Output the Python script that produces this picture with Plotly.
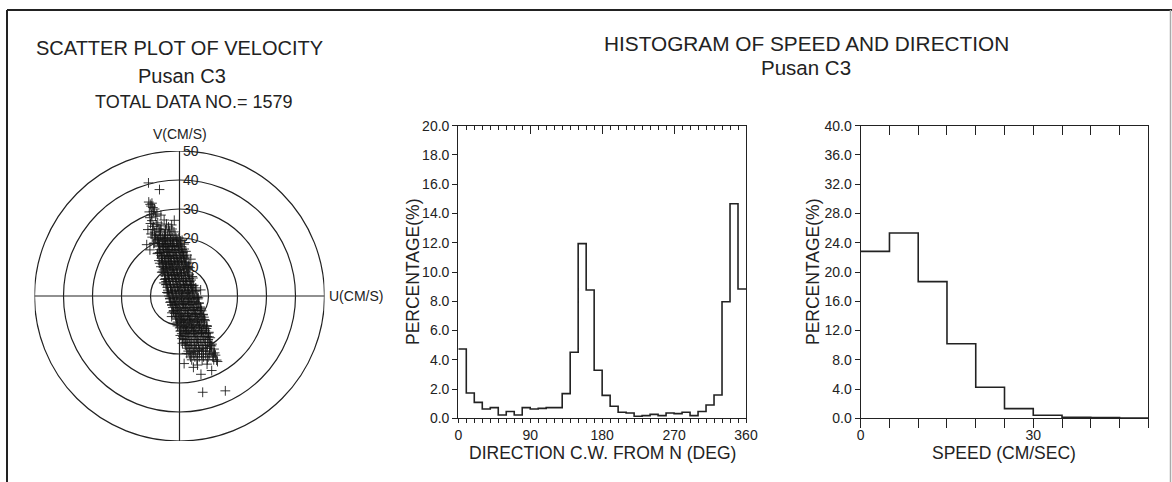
import plotly.graph_objects as go

W, H = 1172, 482
FONT = "Liberation Sans, Arial, sans-serif"
INK = "#222222"

# ---------------- data ----------------
RINGS = [10, 20, 30, 40, 50]

# scatter of velocity (u, v) in cm/s
ROW_V = [21, 20, 19, 18, 17, 16, 15, 14, 13, 12, 11, 10, 9, 8, 7, 6, 5, 4, 3, 2, 1, 0,
         -1, -2, -3, -4, -5, -6, -7, -8, -9, -10, -11, -12, -13, -14, -15, -16, -17,
         -18, -19, -20, -21, -22]
ROW_U = [
    [-8.4, -7.8, -6.5, -5.2, -4.1, -3.0, -1.5],
    [-8.3, -7.0, -5.9, -4.8, -3.6, -2.5, -1.2, -0.2],
    [-7.6, -6.4, -5.5, -4.3, -3.1, -2.0, -0.8, 0.4],
    [-7.2, -6.0, -5.1, -4.2, -3.3, -2.2, -1.0, 0.3],
    [-7.0, -5.8, -4.9, -3.9, -2.9, -1.8, -0.6, 0.6],
    [-6.7, -5.5, -4.6, -3.7, -2.6, -1.5, -0.4, 0.9],
    [-6.8, -5.6, -4.4, -3.5, -2.5, -1.3, -0.1, 1.1],
    [-6.3, -5.2, -4.3, -3.2, -2.1, -1.0, 0.3, 1.4],
    [-6.2, -5.0, -4.0, -3.0, -1.9, -0.8, 0.5, 1.6],
    [-6.0, -4.9, -3.8, -2.8, -1.7, -0.6, 0.7, 1.8],
    [-5.8, -4.6, -3.6, -2.6, -1.5, -0.3, 0.9, 2.1],
    [-5.6, -4.5, -3.4, -2.3, -1.2, 0.0, 1.2, 2.4],
    [-5.5, -4.2, -3.2, -2.1, -1.0, 0.2, 1.4, 2.6],
    [-5.2, -4.0, -2.9, -1.9, -0.7, 0.4, 1.6, 2.8],
    [-5.0, -3.8, -2.7, -1.6, -0.5, 0.7, 1.9, 3.0],
    [-4.8, -3.6, -2.5, -1.4, -0.3, 0.9, 2.1, 3.3],
    [-4.6, -3.4, -2.3, -1.1, 0.0, 1.2, 2.4, 3.5],
    [-4.4, -3.2, -2.0, -0.9, 0.3, 1.4, 2.6, 3.8],
    [-4.2, -3.0, -1.8, -0.6, 0.5, 1.7, 2.9, 4.0],
    [-4.0, -2.8, -1.5, -0.4, 0.8, 1.9, 3.1, 4.3],
    [-3.9, -2.5, -1.3, -0.1, 1.0, 2.2, 3.4, 4.5],
    [-3.6, -2.3, -1.0, 0.2, 1.3, 2.5, 3.7, 4.8],
    [-3.3, -2.0, -0.8, 0.5, 1.6, 2.8, 4.0, 5.1],
    [-3.0, -1.7, -0.5, 0.8, 1.9, 3.1, 4.3, 5.4],
    [-2.6, -1.4, -0.2, 1.0, 2.2, 3.4, 4.6, 5.8],
    [-2.3, -1.1, 0.1, 1.3, 2.5, 3.7, 4.9, 6.1],
    [-2.0, -0.8, 0.4, 1.6, 2.8, 4.0, 5.2, 6.4],
    [-1.6, -0.4, 0.7, 1.9, 3.1, 4.3, 5.5, 6.8],
    [-1.3, -0.1, 1.1, 2.2, 3.4, 4.6, 5.9, 7.1],
    [-0.9, 0.3, 1.4, 2.6, 3.8, 5.0, 6.2, 7.5],
    [-0.6, 0.6, 1.7, 2.9, 4.1, 5.3, 6.6, 7.8],
    [-0.2, 0.9, 2.1, 3.3, 4.5, 5.7, 6.9, 8.2],
    [0.1, 1.3, 2.4, 3.6, 4.8, 6.0, 7.3, 8.5],
    [0.5, 1.6, 2.8, 4.0, 5.2, 6.4, 7.6, 8.9],
    [0.8, 2.0, 3.1, 4.3, 5.5, 6.7, 8.0, 9.2],
    [1.2, 2.3, 3.5, 4.7, 5.9, 7.1, 8.3, 9.6],
    [1.5, 2.7, 3.9, 5.1, 6.2, 7.4, 8.7, 9.9],
    [1.9, 3.0, 4.2, 5.4, 6.6, 7.8, 9.0, 10.3],
    [2.3, 3.5, 4.7, 5.9, 7.1, 8.4, 9.6, 10.7],
    [2.6, 3.9, 5.2, 6.5, 7.8, 9.1, 10.4],
    [3.0, 4.3, 5.6, 6.9, 8.2, 9.5, 10.9],
    [3.4, 4.8, 6.2, 7.6, 9.0, 10.4, 11.6],
    [3.8, 5.3, 6.8, 8.3, 9.9, 11.5],
    [4.2, 6.0, 7.8, 9.6, 11.8],
]
# in-between rows of the dense core
MID_U = [-7.3, -5.1, -3.0, -0.9, -6.9, -4.7, -2.4, -0.3, -6.4, -4.1, -1.8, 0.6,
         -5.9, -3.6, -1.2, 1.3, -5.3, -3.0, -0.6, 1.9, -4.8, -2.4, 0.1, 2.7,
         -4.2, -1.8, 0.7, 3.3, -3.7, -1.2, 1.4, 4.0, -3.1, -0.6, 2.0, 4.6,
         -2.5, 0.0, 2.7, 5.3, -1.9, 0.7, 3.3, 6.0, -1.2, 1.4, 4.0, 6.7,
         -0.6, 2.0, 4.7, 7.4, 0.1, 2.7, 5.4, 8.1, 0.8, 3.4, 6.1, 8.8,
         1.5, 4.1, 6.8, 9.5, 2.3, 4.9, 7.6, 10.1,
         -9.4, 1.6, -8.9, 2.3, -7.6, 3.1, -6.8, 4.4, -6.1, 5.6, -5.4, 6.5,
         -4.3, 7.2, -3.2, 8.4, -2.6, 9.3, -1.1, 10.2, 0.3, 11.0, 1.0, 12.1]
MID_V = [19.5, 19.6, 19.4, 19.5, 17.5, 17.6, 17.4, 17.5, 15.5, 15.4, 15.6, 15.5,
         13.5, 13.6, 13.4, 13.5, 11.5, 11.4, 11.6, 11.5, 9.5, 9.6, 9.4, 9.5,
         7.5, 7.4, 7.6, 7.5, 5.5, 5.6, 5.4, 5.5, 3.5, 3.4, 3.6, 3.5,
         1.5, 1.6, 1.4, 1.5, -0.5, -0.4, -0.6, -0.5, -2.5, -2.6, -2.4, -2.5,
         -4.5, -4.4, -4.6, -4.5, -6.5, -6.6, -6.4, -6.5, -8.5, -8.4, -8.6, -8.5,
         -10.5, -10.6, -10.4, -10.5, -12.5, -12.4, -12.6, -12.5,
         20.3, 16.2, 18.1, 13.4, 14.6, 10.2, 11.3, 6.7, 8.2, 2.8, 4.5, -0.6,
         1.2, -3.8, -2.2, -7.3, -5.8, -11.2, -9.4, -14.1, -13.6, -17.2, -16.3, -19.6]
# ragged edges of the cloud
EDGE_U = [-8.7, -7.4, -7.1, -6.4, -5.8, -5.1, -4.7, -3.9, -3.3, -2.6, -2.1, -1.2,
          -0.7, 0.3, 0.9, 2.0, 2.5, 1.6, 2.6, 3.3, 3.6, 4.6, 4.9, 5.7, 6.1, 6.7,
          7.3, 8.1, 8.6, 9.4, 10.0, 10.6, 11.2, 11.9, 12.4, 13.1, -9.8, -8.0,
          -6.6, 0.9, 2.2, 3.9]
EDGE_V = [18.3, 14.8, 12.2, 10.1, 8.3, 5.7, 3.9, 1.3, -0.8, -3.2, -5.4, -7.6,
          -10.3, -12.1, -14.7, -16.9, -19.8, 17.9, 14.1, 11.4, 9.8, 6.2, 3.7, 1.9,
          -0.3, -2.4, -4.2, -6.3, -8.1, -10.2, -12.8, -14.4, -16.6, -18.3, -20.4,
          -22.6, 21.4, 24.6, 22.8, 19.2, 15.4, 12.7]
# sparse points / outliers
EXTRA_U = [-8.6, -6.8, -5.0, -3.4, -1.9, -9.3, -7.1, -4.8, -2.6, -9.0, -6.3, -3.8,
           -10.0, -7.5, -4.5, -9.5, -5.3, -1.8, -10.2, -8.3, -6.4, -9.7, -7.8, -9.0,
           -10.4, -9.2, -8.6, -10.1, -9.8, -10.6, -9.5, -10.7, -6.9, -10.9, -11.3,
           -10.2, -2.7, 1.6, 4.8, 7.4, 11.1, 12.8, 8.0, 15.8, 9.5, 6.2, 7.3, 7.6, 4.2,
           6.3, -2.7]
EXTRA_V = [22.0, 22.3, 21.8, 22.4, 22.1, 23.0, 23.2, 22.9, 23.1, 24.0, 24.2, 23.8,
           25.0, 25.2, 24.8, 26.0, 26.2, 26.1, 27.0, 27.5, 27.9, 28.0, 28.3, 29.2,
           29.0, 30.5, 30.0, 31.6, 31.0, 32.4, 32.0, 39.0, 36.7, 22.9, 17.7,
           15.9, 24.5, -23.3, -24.6, -27.0, -25.7, -22.1, -33.2, -32.7, -23.5, -23.8,
           2.1, -5.1, 3.8, -1.0, -7.1]

# direction histogram (10 deg bins, %)
DIR_BIN_WIDTH = 10
DIR_PCT = [4.74, 1.73, 1.09, 0.64, 0.73, 0.23, 0.46, 0.23, 0.73, 0.64, 0.68, 0.73,
           0.73, 1.69, 4.51, 11.94, 8.77, 3.28, 1.57, 0.82, 0.41, 0.36, 0.14, 0.18,
           0.27, 0.18, 0.36, 0.32, 0.41, 0.18, 0.46, 0.91, 1.59, 7.97, 14.67, 8.84]

# speed histogram (5 cm/s bins, %)
SPD_BIN_WIDTH = 5
SPD_PCT = [22.82, 25.33, 18.68, 10.2, 4.24, 1.32, 0.41, 0.14, 0.09, 0.05]

# ---------------- helpers ----------------
def fx(px):
    return px / W


def fy(py):
    return 1 - py / H


scat_u, scat_v = [], []
for v, us in zip(ROW_V, ROW_U):
    for u in us:
        scat_u.append(u)
        scat_v.append(v)
scat_u += MID_U + EDGE_U + EXTRA_U
scat_v += MID_V + EDGE_V + EXTRA_V

dir_edges = [i * DIR_BIN_WIDTH for i in range(len(DIR_PCT) + 1)]
spd_edges = [i * SPD_BIN_WIDTH for i in range(len(SPD_PCT) + 1)]

fig = go.Figure()

fig.add_trace(go.Scatter(
    x=scat_u, y=scat_v, mode="markers", xaxis="x", yaxis="y",
    marker=dict(symbol="cross-thin", size=7, color="rgba(20,20,20,0.85)",
                line=dict(width=1, color="rgba(20,20,20,0.85)")),
    hoverinfo="skip"))

fig.add_trace(go.Scatter(
    x=dir_edges, y=DIR_PCT + [DIR_PCT[-1]], mode="lines", line_shape="hv",
    line=dict(color=INK, width=1.6), xaxis="x2", yaxis="y2", hoverinfo="skip"))

fig.add_trace(go.Scatter(
    x=spd_edges, y=SPD_PCT + [SPD_PCT[-1]], mode="lines", line_shape="hv",
    line=dict(color=INK, width=1.6), xaxis="x3", yaxis="y3", hoverinfo="skip"))

# invisible traces for the top tick axes
fig.add_trace(go.Scatter(x=[0, 360], y=[0, 0], mode="markers", marker=dict(opacity=0),
                         xaxis="x4", yaxis="y2", hoverinfo="skip"))
fig.add_trace(go.Scatter(x=[0, 50], y=[0, 0], mode="markers", marker=dict(opacity=0),
                         xaxis="x5", yaxis="y3", hoverinfo="skip"))

shapes = []
for r in RINGS:
    shapes.append(dict(type="circle", xref="x", yref="y", x0=-r, y0=-r, x1=r, y1=r,
                       line=dict(color=INK, width=1.2)))
R = RINGS[-1]
shapes.append(dict(type="line", xref="x", yref="y", x0=-R, y0=0, x1=R, y1=0,
                   line=dict(color=INK, width=1.2)))
shapes.append(dict(type="line", xref="x", yref="y", x0=0, y0=-R, x1=0, y1=R,
                   line=dict(color=INK, width=1.2)))
# outer frame
shapes.append(dict(type="line", xref="paper", yref="paper", x0=fx(7), y0=0, x1=fx(7),
                   y1=fy(10), line=dict(color=INK, width=2)))
shapes.append(dict(type="line", xref="paper", yref="paper", x0=fx(7), y0=fy(10), x1=1,
                   y1=fy(10), line=dict(color=INK, width=2)))
shapes.append(dict(type="line", xref="paper", yref="paper", x0=fx(1170.5), y0=0,
                   x1=fx(1170.5), y1=fy(10), line=dict(color="#aaaaaa", width=1.5)))

ann = []


def text(x, y, s, size, xref="paper", yref="paper", xanchor="center", yanchor="middle",
         angle=0, xshift=0, yshift=0):
    ann.append(dict(x=x, y=y, xref=xref, yref=yref, text=s, showarrow=False,
                    xanchor=xanchor, yanchor=yanchor, textangle=angle,
                    xshift=xshift, yshift=yshift,
                    font=dict(family=FONT, size=size, color=INK)))


text(fx(179), fy(48), "SCATTER PLOT OF VELOCITY", 20)
text(fx(182), fy(76), "Pusan C3", 20)
text(fx(194), fy(102), "TOTAL DATA NO.= 1579", 18)
text(fx(806), fy(43), "HISTOGRAM OF SPEED AND DIRECTION", 20.8)
text(fx(806), fy(68), "Pusan C3", 20.5)

for r in RINGS:
    text(0, r, str(r), 14, xref="x", yref="y", xanchor="left", xshift=1)
text(0, R, "V(CM/S)", 14, xref="x", yref="y", yanchor="bottom", yshift=7)
text(R, 0, "U(CM/S)", 14, xref="x", yref="y", xanchor="left", xshift=2)

text(fx(413), fy(272), "PERCENTAGE(%)", 17.5, angle=-90)
text(fx(813), fy(272), "PERCENTAGE(%)", 17.5, angle=-90)
text(fx(602), fy(453), "DIRECTION C.W. FROM N (DEG)", 17.5)
text(fx(1004), fy(453), "SPEED (CM/SEC)", 17.5)

tickfont = dict(family=FONT, size=14, color=INK)
common = dict(showgrid=False, zeroline=False, showline=True, linecolor=INK,
              linewidth=1.3, tickcolor=INK, tickwidth=1.2, tickfont=tickfont,
              fixedrange=True, automargin=False)

fig.update_layout(
    template="none",
    width=W, height=H, margin=dict(l=0, r=0, t=0, b=0, pad=0), autosize=False,
    paper_bgcolor="white", plot_bgcolor="white", showlegend=False,
    shapes=shapes, annotations=ann,
    xaxis=dict(domain=[fx(34.5), fx(324.5)], range=[-50, 50], visible=False,
               fixedrange=True, automargin=False),
    yaxis=dict(domain=[fy(441), fy(151)], range=[-50, 50], visible=False,
               fixedrange=True, automargin=False),
    xaxis2=dict(domain=[fx(458.3), fx(746)], range=[0, 360], anchor="y2",
                ticks="outside", tickmode="linear", tick0=0, dtick=90, ticklen=4,
                minor=dict(dtick=10, tick0=0, ticks="outside", ticklen=4,
                           tickcolor=INK, tickwidth=1.1),
                **common),
    xaxis4=dict(range=[0, 360], overlaying="x2", anchor="y2", side="top",
                ticks="inside", tickmode="linear", tick0=0, dtick=90, ticklen=8,
                showticklabels=False,
                minor=dict(dtick=10, tick0=0, ticks="inside", ticklen=4,
                           tickcolor=INK, tickwidth=1.1),
                **common),
    yaxis2=dict(domain=[fy(418.3), fy(125.7)], range=[0, 20], anchor="x2",
                ticks="outside", tickmode="linear", tick0=0, dtick=2, ticklen=5,
                tickformat=".1f", mirror=True, **common),
    xaxis3=dict(domain=[fx(860.7), fx(1148.3)], range=[0, 50], anchor="y3",
                ticks="outside", tickmode="linear", tick0=0, dtick=30, ticklen=9,
                ticklabelstandoff=-5,
                minor=dict(dtick=5, tick0=0, ticks="outside", ticklen=9,
                           tickcolor=INK, tickwidth=1.2),
                **common),
    xaxis5=dict(range=[0, 50], overlaying="x3", anchor="y3", side="top",
                ticks="inside", tickmode="linear", tick0=0, dtick=5, ticklen=9,
                showticklabels=False, **common),
    yaxis3=dict(domain=[fy(418.3), fy(125.7)], range=[0, 40], anchor="x3",
                ticks="outside", tickmode="linear", tick0=0, dtick=4, ticklen=5,
                tickformat=".1f", mirror=True, **common),
)

fig.write_html(
    "out.html",
    post_script="document.body.style.margin='0';document.body.style.overflow='hidden';",
)
